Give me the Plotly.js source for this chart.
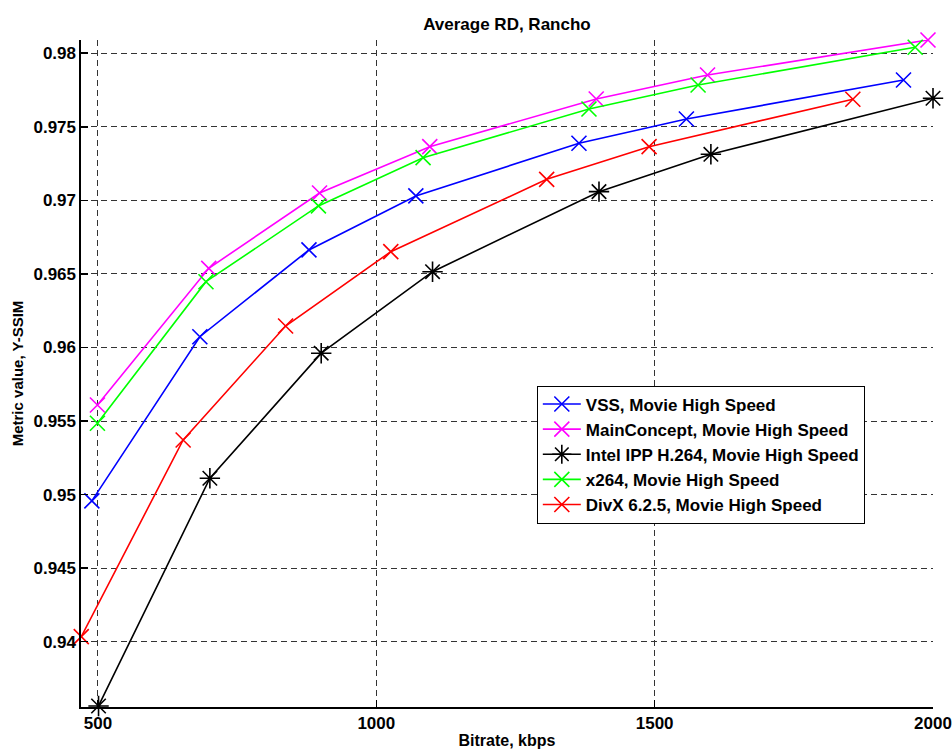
<!DOCTYPE html>
<html>
<head>
<meta charset="utf-8">
<script src="https://cdn.plot.ly/plotly-3.0.1.min.js"></script>
<style>html,body{margin:0;padding:0;background:#fff;}#chart{width:952px;height:749px;}</style>
</head>
<body>
<div id="chart"></div>
<script>
const seriesNames = [
  "VSS, Movie High Speed",
  "MainConcept, Movie High Speed",
  "Intel IPP H.264, Movie High Speed",
  "x264, Movie High Speed",
  "DivX 6.2.5, Movie High Speed"
];
const vssX = [489, 683, 879, 1071, 1364, 1557, 1947];
const vssY = [0.94957, 0.96073, 0.96663, 0.97030, 0.97388, 0.97553, 0.97818];
const mcX = [499, 699, 898, 1096, 1395, 1595, 1991];
const mcY = [0.95609, 0.96538, 0.97050, 0.97365, 0.97689, 0.97852, 0.98090];
const intelX = [501, 701, 901, 1101, 1400, 1601, 2000];
const intelY = [0.93563, 0.95111, 0.95961, 0.96515, 0.97059, 0.97313, 0.97694];
const x264X = [499, 694, 896, 1084, 1382, 1578, 1968];
const x264Y = [0.95485, 0.96447, 0.96962, 0.97290, 0.97621, 0.97784, 0.98041];
const divxX = [470, 653, 837, 1026, 1306, 1490, 1856];
const divxY = [0.94034, 0.95371, 0.96146, 0.96651, 0.97143, 0.97365, 0.97687];

const xTickVals = [500, 1000, 1500, 2000];
const xTickText = ["500", "1000", "1500", "2000"];
const yTickVals = [0.94, 0.945, 0.95, 0.955, 0.96, 0.965, 0.97, 0.975, 0.98];
const yTickText = ["0.94", "0.945", "0.95", "0.955", "0.96", "0.965", "0.97", "0.975", "0.98"];

const colors = ["#0000ff", "#ff00ff", "#000000", "#00ff00", "#ff0000"];
const symbols = ["x-thin-open", "x-thin-open", "asterisk-open", "x-thin-open", "x-thin-open"];
const xs = [vssX, mcX, intelX, x264X, divxX];
const ys = [vssY, mcY, intelY, x264Y, divxY];

const FONT = "Liberation Sans, Arial, Helvetica, sans-serif";
const traces = seriesNames.map((n, i) => ({
  type: "scatter",
  mode: "lines+markers",
  name: n,
  x: xs[i],
  y: ys[i],
  cliponaxis: false,
  line: {color: colors[i], width: 1.6},
  marker: {
    symbol: symbols[i],
    size: symbols[i] === "asterisk-open" ? 17 : 15,
    color: colors[i],
    line: {color: colors[i], width: 1.6}
  }
}));

const layout = {
  width: 952,
  height: 749,
  paper_bgcolor: "#ffffff",
  plot_bgcolor: "#ffffff",
  margin: {l: 81, r: 19, t: 40, b: 42},
  font: {family: FONT, size: 17, color: "#000", weight: "bold"},
  title: {
    text: "Average RD, Rancho",
    font: {family: FONT, size: 17, color: "#000", weight: "bold"},
    x: 0.5325, xanchor: "center",
    y: 0.968, yref: "container", yanchor: "middle"
  },
  xaxis: {
    range: [469.5, 2000],
    tickvals: xTickVals,
    ticktext: xTickText,
    ticks: "inside",
    ticklen: 7,
    tickwidth: 1.5,
    tickcolor: "#000",
    showline: true,
    linecolor: "#000",
    linewidth: 1.6,
    mirror: false,
    showgrid: true,
    gridcolor: "#333",
    gridwidth: 1,
    griddash: "6px,4px",
    zeroline: false,
    tickfont: {family: FONT, size: 17, color: "#000", weight: "bold"},
    title: {text: "Bitrate, kbps", font: {family: FONT, size: 16, color: "#000", weight: "bold"}, standoff: 3}
  },
  yaxis: {
    range: [0.93556, 0.98090],
    tickvals: yTickVals,
    ticktext: yTickText,
    ticks: "inside",
    ticklen: 7,
    tickwidth: 1.5,
    tickcolor: "#000",
    showline: true,
    linecolor: "#000",
    linewidth: 1.6,
    mirror: false,
    showgrid: true,
    gridcolor: "#333",
    gridwidth: 1,
    griddash: "6px,4px",
    zeroline: false,
    tickfont: {family: FONT, size: 17, color: "#000", weight: "bold"},
    title: {text: "Metric value, Y-SSIM", font: {family: FONT, size: 15, color: "#000", weight: "bold"}, standoff: 6}
  },
  showlegend: true,
  legend: {
    x: 0.535, y: 0.482, xanchor: "left", yanchor: "top",
    bgcolor: "#ffffff",
    bordercolor: "#000",
    borderwidth: 1,
    font: {family: FONT, size: 17, color: "#000", weight: "bold"},
    tracegroupgap: 0,
    itemwidth: 38
  }
};

Plotly.newPlot("chart", traces, layout, {displayModeBar: false, staticPlot: true});
</script>
</body>
</html>
